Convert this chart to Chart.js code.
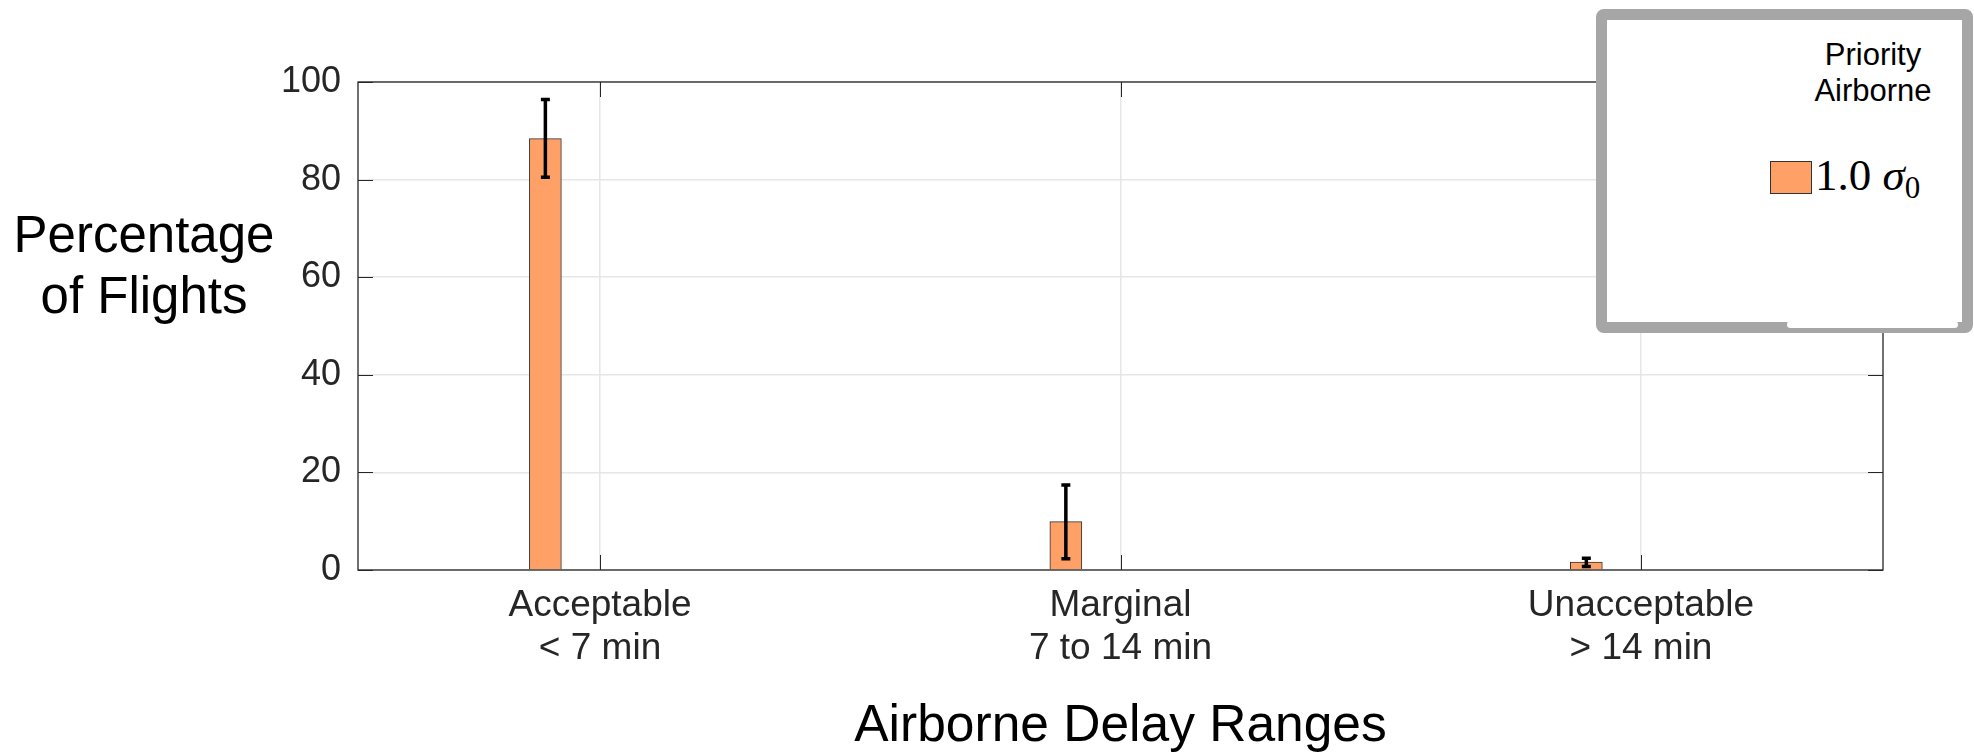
<!DOCTYPE html>
<html>
<head>
<meta charset="utf-8">
<script src="https://cdn.jsdelivr.net/npm/chart.js@4.4.1/dist/chart.umd.min.js"></script>
<style>
    html, body { margin: 0; padding: 0; background: #fff; }
    #wrap { position: relative; width: 1974px; height: 754px; }
    #yTitle {
        position: absolute; left: 0; top: 204px; width: 288px;
        font: 51px "Liberation Sans", Arial, sans-serif; line-height: 61px;
        text-align: center; color: #000;
    }
    #legend {
        position: absolute; left: 1596px; top: 9px; width: 377px; height: 324px;
        box-sizing: border-box; border: 11px solid #a6a6a6; border-radius: 8px;
        background: #fff; font-family: "Liberation Sans", Arial, sans-serif;
    }
    #legend .title {
        position: absolute; left: 192px; top: 17px; width: 148px;
        text-align: center; font-size: 31px; line-height: 36px; color: #000;
    }
    #legend .item { position: absolute; left: 163px; top: 129px; white-space: nowrap; }
    #legend .swatch {
        display: inline-block; width: 42px; height: 33px; box-sizing: border-box;
        border: 1px solid #333; vertical-align: middle;
    }
    #legend .label {
        font: 45px "Liberation Serif", "Times New Roman", serif; vertical-align: middle;
        margin-left: 3px; color: #000;
    }
    #legend .label sub { font-size: 31px; vertical-align: -8px; }
    #notch {
        position: absolute; left: 1787px; top: 321px; width: 171px; height: 7px;
        background: #fff; border-radius: 4px;
    }
</style>
</head>
<body>
<div id="wrap">
    <canvas id="delayChart" width="1974" height="754"></canvas>
    <div id="yTitle">Percentage<br>of Flights</div>
    <div id="legend"></div>
    <div id="notch"></div>
</div>
<script>
    // categories
    const categories = [
        ['Acceptable', '< 7 min'],
        ['Marginal', '7 to 14 min'],
        ['Unacceptable', '> 14 min']
    ];

    // 1.0 sigma0 series, percent of flights
    const pctFlights = [88.4, 9.9, 1.6];
    const errLower = [80.5, 2.3, 0.7];
    const errUpper = [96.4, 17.4, 2.4];

    const yTicks = [0, 20, 40, 60, 80, 100];

    const legendTitle = ['Priority', 'Airborne'];
    const seriesName = '1.0 σ0';

    const barColor = '#FFA166';
    const barEdge = '#333333';
    const barShift = -0.105; // bar sits left of the category tick (grouped layout)
    const axisColor = '#262626';

    const ctx = document.getElementById('delayChart').getContext('2d');

    // draws the full axes box and MATLAB style inward ticks
    const axesBox = {
        id: 'axesBox',
        afterDatasetsDraw(chart) {
            const { ctx, chartArea: a, scales } = chart;
            ctx.save();
            ctx.strokeStyle = axisColor;
            ctx.lineWidth = 1.3;
            ctx.strokeRect(a.left, a.top, a.right - a.left, a.bottom - a.top);
            ctx.lineWidth = 1;
            const len = 15;
            ctx.beginPath();
            categories.forEach((c, i) => {
                const x = Math.round(scales.x.getPixelForValue(i + 1)) + 0.5;
                ctx.moveTo(x, a.bottom); ctx.lineTo(x, a.bottom - len);
                ctx.moveTo(x, a.top); ctx.lineTo(x, a.top + len);
            });
            yTicks.forEach(v => {
                const y = Math.round(scales.y.getPixelForValue(v)) + 0.5;
                ctx.moveTo(a.left, y); ctx.lineTo(a.left + len, y);
                ctx.moveTo(a.right, y); ctx.lineTo(a.right - len, y);
            });
            ctx.stroke();
            ctx.restore();
        }
    };

    // error bars
    const errorBars = {
        id: 'errorBars',
        afterDatasetsDraw(chart) {
            const { ctx, scales } = chart;
            const meta = chart.getDatasetMeta(0);
            ctx.save();
            ctx.strokeStyle = '#000';
            ctx.lineWidth = 3.5;
            ctx.lineCap = 'butt';
            meta.data.forEach((bar, i) => {
                const yLo = scales.y.getPixelForValue(errLower[i]);
                const yHi = scales.y.getPixelForValue(errUpper[i]);
                ctx.beginPath();
                ctx.moveTo(bar.x, yLo); ctx.lineTo(bar.x, yHi);
                ctx.moveTo(bar.x - 4.5, yLo); ctx.lineTo(bar.x + 4.5, yLo);
                ctx.moveTo(bar.x - 4.5, yHi); ctx.lineTo(bar.x + 4.5, yHi);
                ctx.stroke();
            });
            ctx.restore();
        }
    };

    const chart = new Chart(ctx, {
        type: 'bar',
        data: {
            datasets: [{
                label: seriesName,
                data: pctFlights.map((v, i) => ({ x: i + 1 + barShift, y: v })),
                backgroundColor: barColor,
                borderColor: barEdge,
                borderWidth: 1,
                barThickness: 32
            }]
        },
        options: {
            responsive: false,
            animation: false,
            layout: { padding: { left: 0, top: 82, right: 91, bottom: 0 } },
            plugins: {
                legend: { display: false },
                tooltip: { enabled: false }
            },
            scales: {
                x: {
                    type: 'linear',
                    min: 0.535,
                    max: 3.465,
                    offset: false,
                    afterBuildTicks: scale => {
                        scale.ticks = categories.map((c, i) => ({ value: i + 1 }));
                    },
                    afterFit: scale => { scale.height = 184; },
                    grid: { color: '#e6e6e6', lineWidth: 1.5, drawTicks: false, offset: false },
                    border: { display: false },
                    ticks: {
                        autoSkip: false,
                        maxRotation: 0,
                        padding: 14,
                        color: axisColor,
                        font: { family: '"Liberation Sans", Arial, sans-serif', size: 37, lineHeight: 1.17 },
                        callback: value => categories[value - 1] || ''
                    },
                    title: {
                        display: true,
                        text: 'Airborne Delay Ranges',
                        color: '#000',
                        font: { family: '"Liberation Sans", Arial, sans-serif', size: 51.5 },
                        padding: { top: 0, bottom: -4 }
                    }
                },
                y: {
                    min: 0,
                    max: 100,
                    afterBuildTicks: scale => {
                        scale.ticks = yTicks.map(v => ({ value: v }));
                    },
                    afterFit: scale => { scale.width = 358; },
                    grid: { color: '#e6e6e6', lineWidth: 1.5, drawTicks: false },
                    border: { display: false },
                    ticks: {
                        padding: 17,
                        color: axisColor,
                        font: { family: '"Liberation Sans", Arial, sans-serif', size: 36 }
                    }
                }
            }
        },
        plugins: [axesBox, errorBars]
    });

    // html legend built from the dataset
    const legendEl = document.getElementById('legend');
    const ds = chart.data.datasets[0];
    const [num, sym] = ds.label.split(' ');
    legendEl.innerHTML =
        '<div class="title">' + legendTitle.join('<br>') + '</div>' +
        '<div class="item"><span class="swatch" style="background:' + ds.backgroundColor + '"></span>' +
        '<span class="label">' + num + ' <i>' + sym.charAt(0) + '</i><sub>' + sym.slice(1) + '</sub></span></div>';
</script>
</body>
</html>
